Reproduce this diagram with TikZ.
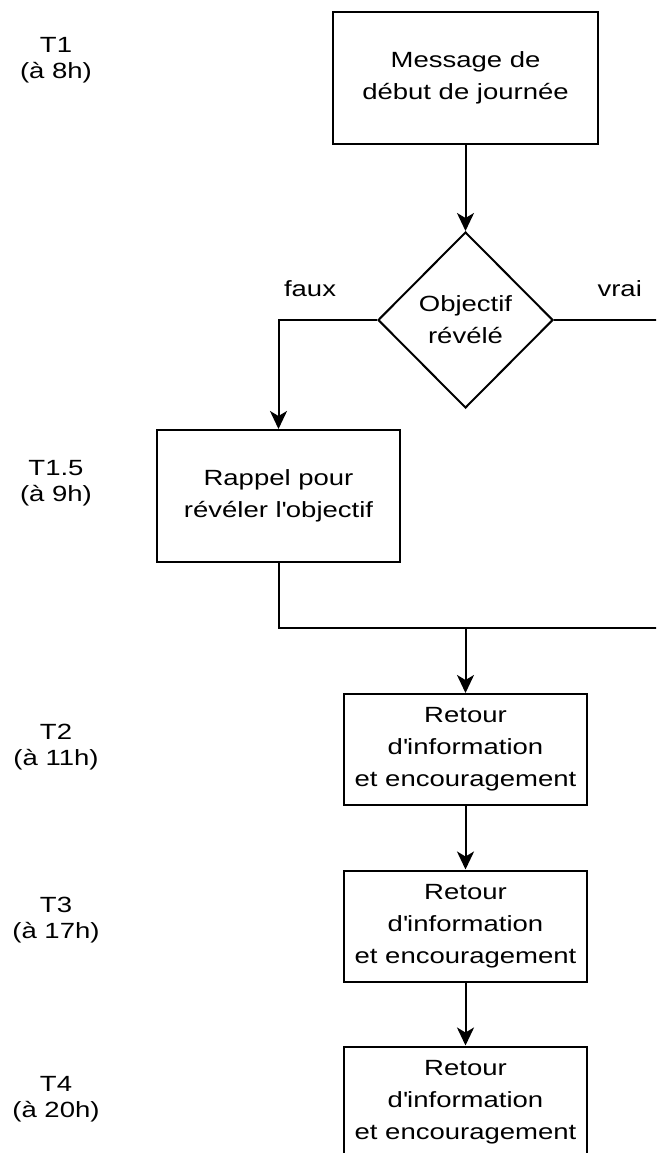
\documentclass[tikz,border=0pt]{standalone}
\usepackage{fontspec}
\setmainfont[FakeStretch=1.25]{Liberation Sans}
\usetikzlibrary{shapes.geometric,arrows.meta}
\begin{document}
\begin{tikzpicture}[x=1pt,y=-1pt,>={Stealth[length=18pt,width=17pt,inset=5pt]},
  box/.style={draw,line width=2pt,minimum width=243pt,minimum height=111pt,
    inner sep=0pt,align=center,font=\fontsize{22}{32}\selectfont},
  decision/.style={diamond,draw,line width=2pt,minimum width=175pt,
    minimum height=176pt,inner sep=0pt,align=center,font=\fontsize{22}{32}\selectfont},
  timelbl/.style={align=center,inner sep=0pt,font=\fontsize{22}{26}\selectfont},
  branch/.style={inner sep=0pt,above=22pt,font=\fontsize{22}{26}\selectfont},
  conn/.style={line width=2pt}]
\clip (0,0) rectangle (656,1153);

% time labels
\node[timelbl] (t1) at (56,60) {T1\\(à 8h)};
\node[timelbl] (t15) at (56,483) {T1.5\\(à 9h)};
\node[timelbl] (t2) at (56,747) {T2\\(à 11h)};
\node[timelbl] (t3) at (56,920) {T3\\(à 17h)};
\node[timelbl] (t4) at (56,1099) {T4\\(à 20h)};

% flow
\node[box,minimum width=265pt,minimum height=132pt] (msg) at (465.5,78) {Message de\\début de journée};
\node[decision] (obj) at (465.5,320) {Objectif\\révélé};
\node[box,minimum height=132pt] (rappel) at (278.5,496) {Rappel pour\\révéler l\textquotesingle objectif};
\node[box] (fb1) at (465.5,749.5) {Retour\\d\textquotesingle information\\et encouragement};
\node[box] (fb2) at (465.5,926) {Retour\\d\textquotesingle information\\et encouragement};
\node[box] (fb3) at (465.5,1102) {Retour\\d\textquotesingle information\\et encouragement};

\coordinate (merge) at (465.5,628);
\coordinate (vraiR) at (700,628);

\draw[conn,->] (msg) -- (obj);
\draw[conn,->] (obj.west) -| node[branch,pos=.34] (faux) {faux} (rappel.north);
\draw[conn] (obj.east) -| node[branch,pos=.225] (vrai) {vrai} (vraiR) -- (merge);
\draw[conn] (rappel.south) |- (merge);
\draw[conn,->] (merge) -- (fb1);
\draw[conn,->] (fb1) -- (fb2);
\draw[conn,->] (fb2) -- (fb3);
\end{tikzpicture}
\end{document}
